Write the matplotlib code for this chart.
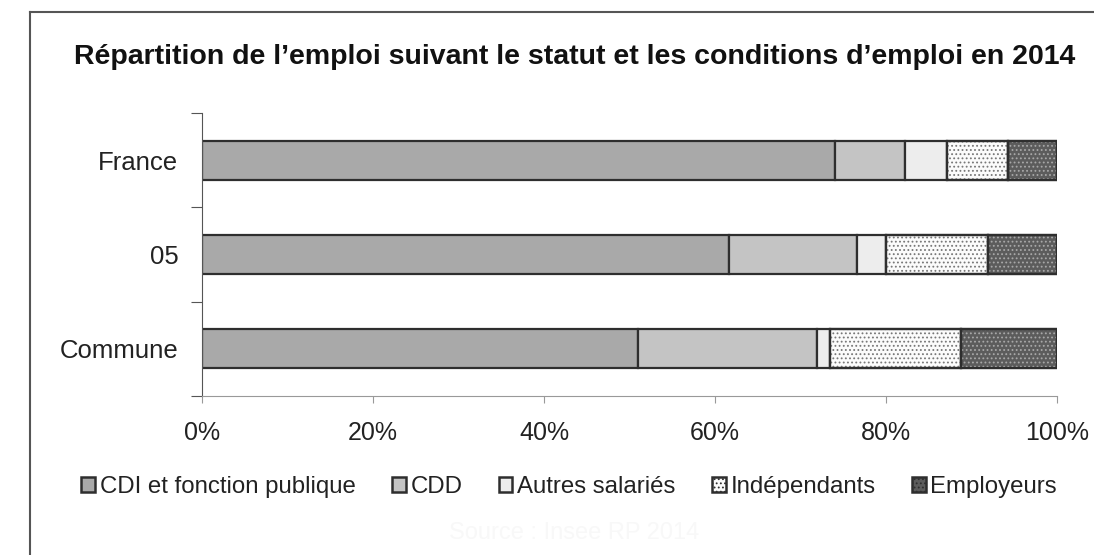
import matplotlib

matplotlib.use("Agg")
import matplotlib.pyplot as plt
from matplotlib.patches import Patch
import numpy as np

plt.rcParams["font.family"] = ["Liberation Sans", "DejaVu Sans"]
plt.rcParams["hatch.linewidth"] = 0.8

# data (share of employment, %)
zones = ["France", "05", "Commune"]
statuts = ["CDI et fonction publique", "CDD", "Autres salariés", "Indépendants", "Employeurs"]
cdi = [74.0, 61.6, 51.0]
cdd = [8.2, 15.0, 20.9]
autres = [4.9, 3.4, 1.6]
independants = [7.2, 11.9, 15.3]
employeurs = [5.7, 8.1, 11.2]

fills = ["#a9a9a9", "#c4c4c4", "#ededed", "#fbfbfb", "#5c5c5c"]
hatch_cols = [None, None, None, "#777777", "#a8a8a8"]
hatches = [None, None, None, "....", "...."]
edge = "#2e2e2e"

fig = plt.figure(figsize=(10.94, 5.55), dpi=100)
# outer chart frame (scanned border, left and top only visible)
fig.add_artist(plt.Line2D([30 / 1094, 30 / 1094], [0, 1 - 12 / 555], color="#555555", lw=1.5))
fig.add_artist(plt.Line2D([30 / 1094, 1], [1 - 12 / 555, 1 - 12 / 555], color="#555555", lw=1.5))

ax = fig.add_axes([202 / 1094, 1 - 396 / 555, 855 / 1094, 283 / 555])

series = [cdi, cdd, autres, independants, employeurs]
y = np.arange(len(zones))[::-1] + 0.5
left = np.zeros(len(zones))
for vals, fc, hc, h in zip(series, fills, hatch_cols, hatches):
    vals = np.array(vals)
    ax.barh(y, vals, left=left, height=0.41, color=fc, edgecolor=edge, linewidth=1.6, zorder=2)
    if h:
        ax.barh(y, vals, left=left, height=0.41, fill=False, hatch=h, edgecolor=hc, linewidth=0, zorder=3)
        ax.barh(y, vals, left=left, height=0.41, fill=False, edgecolor=edge, linewidth=1.6, zorder=4)
    left += vals

ax.set_xlim(0, 100)
ax.set_ylim(0, 3)
ax.set_xticks(np.arange(0, 101, 20))
ax.set_xticklabels([f"{v}%" for v in range(0, 101, 20)], fontsize=18, color="#222222")
ax.set_yticks([0, 1, 2, 3])
ax.set_yticklabels([])
ax.set_yticks(y, minor=True)
ax.set_yticklabels(zones, minor=True, fontsize=18.5, color="#222222")
ax.tick_params(axis="y", which="minor", length=0, pad=17)
ax.tick_params(axis="y", which="major", length=8, color="#555555", direction="out")
ax.tick_params(axis="x", length=5, color="#999999", pad=13)
for s in ["top", "right"]:
    ax.spines[s].set_visible(False)
ax.spines["left"].set_color("#555555")
ax.spines["bottom"].set_color("#999999")

handles = []
for fc, h in zip(fills, hatches):
    handles.append(Patch(facecolor=fc, edgecolor=edge, hatch=h, linewidth=1.8))
fig.legend(handles, statuts, loc="center", bbox_to_anchor=(569 / 1094, 1 - 487 / 555), ncol=5,
           frameon=False, fontsize=17.3, handlelength=0.58, handleheight=0.58,
           handletextpad=0.2, columnspacing=1.5, labelcolor="#222222",
           borderpad=0, borderaxespad=0)

fig.text(575 / 1094, 1 - 57 / 555, "Répartition de l’emploi suivant le statut et les conditions d’emploi en 2014",
         ha="center", va="center", fontsize=20.5, fontweight="bold", color="#111111")
fig.text(0.525, 1 - 533 / 555, "Source : Insee RP 2014", ha="center", va="center",
         fontsize=17, color="#f8f8f8")

fig.savefig("out.png", dpi=100)
